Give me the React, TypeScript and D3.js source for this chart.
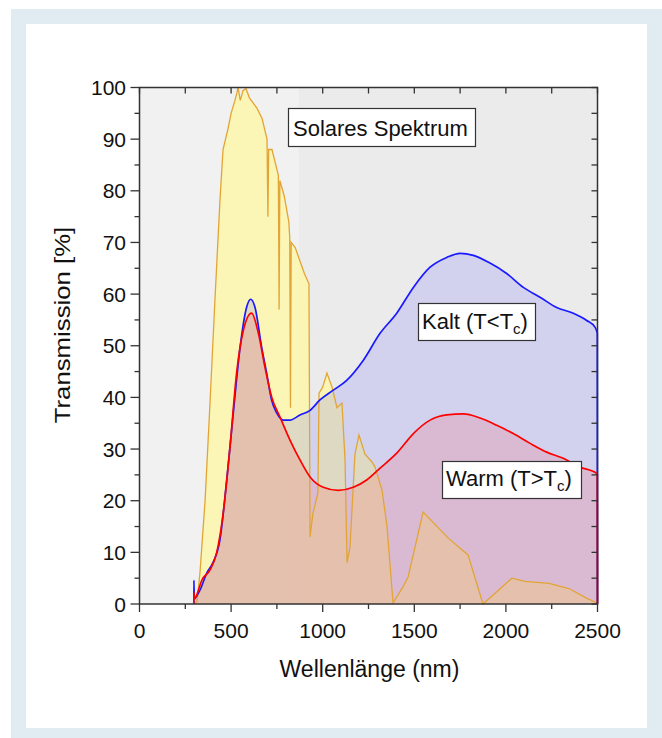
import React from 'react';
import * as d3 from 'd3';

// solar spectrum (AM1.5, scaled to 100) [nm, %]
const solar: [number, number][] = [
  [300, 0], [314, 0.5], [330, 6], [358, 20], [385, 39], [412, 59], [439, 78], [456, 88],
  [483, 92], [500, 95], [521, 97.5], [532, 99], [538, 100], [550, 97.5],
  [565, 99.4], [581, 99.8], [600, 98], [641, 96], [669, 94], [696, 90], [701, 75], [705, 88],
  [723, 88], [751, 84], [758, 83], [762, 57], [766, 82], [790, 79], [815, 74], [820, 71],
  [824, 38], [828, 70], [850, 69], [870, 67], [900, 64], [925, 62], [929, 30], [931, 13],
  [947, 17.6], [974, 21.5], [980, 40.8], [1000, 42], [1023, 44.7], [1051, 42], [1078, 38],
  [1105, 38.9], [1122, 27.9], [1133, 8], [1149, 11], [1176, 29], [1198, 32.7], [1231, 29],
  [1269, 27.5], [1286, 26.5], [1324, 22], [1351, 15], [1384, 0.2], [1438, 3.3], [1466, 5.2],
  [1548, 17.8], [1684, 12.8], [1793, 9.5], [1875, 0], [2033, 5], [2104, 4.4], [2235, 4],
  [2344, 3], [2437, 1.2], [2497, 0.2], [2500, 0],
];

// Kalt (T<Tc)
const kalt: [number, number][] = [
  [296.5, 0], [297, 4.6], [299, 1.0], [305, 1.2], [330, 2.7], [367, 6], [401, 8], [439, 12.4],
  [476, 24], [512, 37], [549, 49.7], [585, 57.5], [607, 59], [630, 57.5], [667, 49.7],
  [694, 44.7], [721, 39.5], [749, 37], [785, 35.6], [822, 35.6], [876, 36.6], [931, 37.5],
  [985, 39.5], [1058, 41.4], [1131, 43.3], [1222, 47.2], [1313, 52.4], [1404, 56.3],
  [1495, 61.3], [1586, 65.2], [1677, 67.1], [1750, 67.9], [1822, 67.5], [1913, 66],
  [2004, 64], [2095, 61.3], [2186, 59.4], [2277, 57.4], [2368, 56.3], [2441, 54.9],
  [2486, 53.6], [2499, 52.4], [2500, 0],
];

// Warm (T>Tc)
const warm: [number, number][] = [
  [296.5, 0], [297, 2.3], [300, 1.0], [308, 1.4], [340, 4.6], [385, 6.6], [421, 9.9],
  [457, 17.6], [494, 30.4], [530, 44.7], [567, 53], [612, 56.3], [649, 52.4], [685, 45.8],
  [722, 40], [767, 36.2], [822, 31.7], [876, 27.9], [931, 24.6], [1003, 22.6], [1085, 22],
  [1167, 22.6], [1240, 24], [1313, 26.3], [1404, 29.2], [1495, 33], [1586, 35.6],
  [1677, 36.6], [1768, 36.8], [1859, 36], [1950, 34.6], [2040, 33], [2132, 31.1],
  [2223, 29.4], [2313, 28.2], [2404, 26.5], [2495, 25.3], [2499, 25.1], [2500, 0],
];

const xTicks = [0, 500, 1000, 1500, 2000, 2500];
const xMinor = d3.range(0, 2501, 250);
const yTicks = [0, 10, 20, 30, 40, 50, 60, 70, 80, 90, 100];
const yMinor = d3.range(0, 101, 5);

const W = 662, H = 738;
const FONT = 'Liberation Sans, Arial, sans-serif';

export default function App() {
  const x = d3.scaleLinear().domain([0, 2500]).range([139.5, 597.5]);
  const y = d3.scaleLinear().domain([0, 100]).range([604, 87.5]);
  const [x0, x1] = x.range();
  const [y0, y1] = y.range();

  const area = (curve: d3.CurveFactory) =>
    d3.area<[number, number]>().x(d => x(d[0])).y0(y(0)).y1(d => y(d[1])).curve(curve);
  const line = (curve: d3.CurveFactory) =>
    d3.line<[number, number]>().x(d => x(d[0])).y(d => y(d[1])).curve(curve);

  return (
    <svg width={W} height={H} style={{ position: 'absolute', left: 0, top: 0, display: 'block' }}
      fontFamily={FONT}>
      <rect x={0} y={0} width={W} height={H} fill="#fff" />
      <rect x={18.5} y={16.5} width={636} height={719} fill="#fff" stroke="#e1ebf2" strokeWidth={15} />

      {/* plot area */}
      <rect x={x0} y={y1} width={x1 - x0} height={y0 - y1} fill="#ebebeb" />
      <rect x={x0} y={y1} width={x(870) - x0} height={y0 - y1} fill="#fff" opacity={0.3} />

      <path d={area(d3.curveLinear)(solar) || ''} fill="#fdf6ab" opacity={0.85} />
      <path d={area(d3.curveMonotoneX)(kalt) || ''} fill="rgb(110,110,255)" opacity={0.2} />
      <path d={area(d3.curveMonotoneX)(warm) || ''} fill="rgb(255,80,80)" opacity={0.18} />

      <path d={line(d3.curveLinear)(solar) || ''} fill="none" stroke="#e2a535" strokeWidth={1.3} />
      <path d={line(d3.curveMonotoneX)(kalt) || ''} fill="none" stroke="#1a1aff" strokeWidth={1.7} />
      <path d={line(d3.curveMonotoneX)(warm) || ''} fill="none" stroke="#ff0000" strokeWidth={1.7} />

      {/* frame */}
      <rect x={x0} y={y1} width={x1 - x0} height={y0 - y1} fill="none" stroke="#333" strokeWidth={1.5} />

      {xMinor.map(t => {
        const major = xTicks.includes(t);
        return (
          <g key={'x' + t} stroke="#333" strokeWidth={1.3}>
            <line x1={x(t)} x2={x(t)} y1={y0} y2={y0 + (major ? 8 : 5)} />
            <line x1={x(t)} x2={x(t)} y1={y1} y2={y1 + 6} />
          </g>
        );
      })}
      {yMinor.map(t => {
        const major = yTicks.includes(t);
        return (
          <g key={'y' + t} stroke="#333" strokeWidth={1.3}>
            <line x1={x0} x2={x0 - (major ? 9 : 5)} y1={y(t)} y2={y(t)} />
            <line x1={x1} x2={x1 - 6} y1={y(t)} y2={y(t)} />
          </g>
        );
      })}

      {xTicks.map(t => (
        <text key={'xl' + t} x={x(t)} y={638} textAnchor="middle" fontSize={21} fill="#111">{t}</text>
      ))}
      {yTicks.map(t => (
        <text key={'yl' + t} x={126} y={y(t) + 7.5} textAnchor="end" fontSize={21} fill="#111">{t}</text>
      ))}

      <text x={369.5} y={677} textAnchor="middle" fontSize={23} fill="#111">Wellenlänge (nm)</text>
      <text transform={`translate(70,325) rotate(-90) scale(1.12,1)`} textAnchor="middle" fontSize={23} fill="#111">
        Transmission [%]
      </text>

      {/* annotations */}
      <rect x={288.5} y={108.5} width={187} height={38} fill="#fff" stroke="#333" strokeWidth={1.2} />
      <text x={293} y={136} fontSize={22} fill="#111">Solares Spektrum</text>

      <rect x={418.5} y={303.5} width={117} height={37} fill="#fff" stroke="#333" strokeWidth={1.2} />
      <text x={422} y={329} fontSize={22} fill="#111">
        Kalt (T&lt;T<tspan fontSize={15} dy={5}>c</tspan><tspan dy={-5}>)</tspan>
      </text>

      <rect x={442.5} y={461.5} width={139} height={37} fill="#fff" stroke="#333" strokeWidth={1.2} />
      <text x={446} y={486} fontSize={22} fill="#111">
        Warm (T&gt;T<tspan fontSize={15} dy={5}>c</tspan><tspan dy={-5}>)</tspan>
      </text>
    </svg>
  );
}
